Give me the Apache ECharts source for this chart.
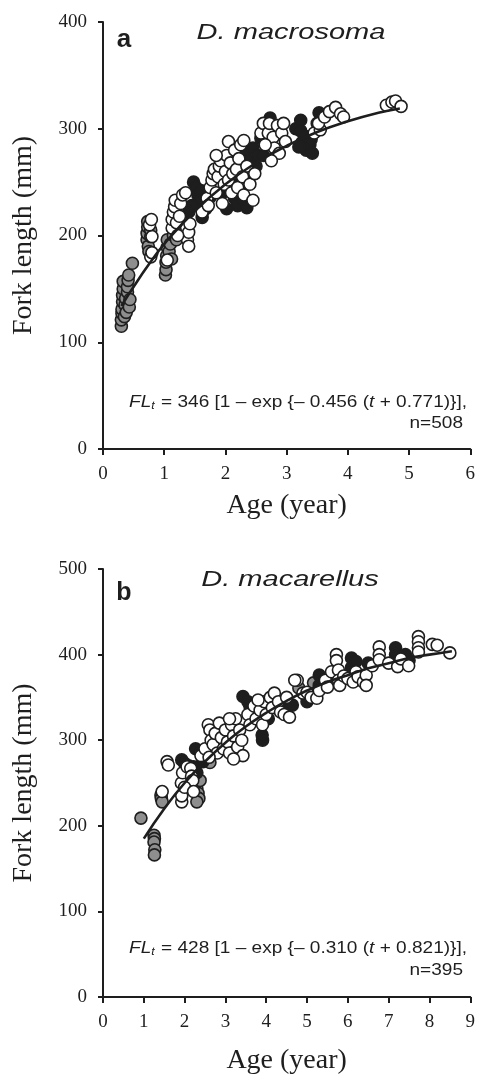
<!DOCTYPE html>
<html>
<head>
    <meta charset="utf-8">
    <title>Growth curves</title>
    <script src="https://cdn.jsdelivr.net/npm/echarts@6/dist/echarts.min.js"></script>
    <style>
        html, body { margin: 0; padding: 0; background: #fff; }
    </style>
</head>
<body>
    <div id="main" style="width: 478px; height: 1077px;"></div>
    <script type="text/javascript">
        var myChart = echarts.init(document.getElementById('main'));

        // panel a : D. macrosoma  [age (year), fork length (mm)]
        var aGray = [
            [0.30,115],[0.30,121],[0.31,127],[0.31,131],[0.32,138],[0.32,144],[0.33,150],[0.33,157],
            [0.35,124],[0.36,135],[0.37,141],[0.38,128],[0.40,147],[0.40,152],[0.41,158],[0.42,163],
            [0.43,133],[0.44,140],[0.48,174],
            [0.72,196],[0.72,202],[0.73,208],[0.73,213],[0.74,190],[0.75,185],[0.78,199],[0.78,205],
            [1.02,163],[1.03,168],[1.03,175],[1.04,181],[1.05,189],[1.05,196],[1.08,185],[1.10,192],
            [1.12,178],[1.15,200],[1.18,205],[1.20,196]
        ];
        var aBlack = [
            [1.48,250],[1.52,245],[1.55,238],[1.58,232],[1.45,228],[1.40,222],[1.62,217],[1.68,225],
            [1.75,236],[1.60,242],
            [2.10,250],[2.15,235],[2.20,228],[2.25,242],[2.30,232],[2.35,226],[2.38,252],[2.32,278],
            [2.40,270],[2.45,282],[2.50,265],[2.53,275],[2.02,225],[1.95,240],
            [2.58,291],[2.65,300],[2.73,310],[2.70,288],[2.62,275],
            [3.15,300],[3.23,308],[3.23,298],[3.25,287],[3.30,293],[3.32,280],[3.38,285],[3.42,277],
            [3.40,290],[3.20,283],[3.53,315],[3.50,305]
        ];
        var aWhite = [
            [0.78,180],[0.80,184],[0.80,199],[0.76,210],[0.79,215],
            [1.05,177],[1.13,207],[1.13,215],[1.15,222],[1.17,227],[1.18,233],[1.20,212],[1.25,218],
            [1.27,230],[1.30,238],[1.35,240],[1.38,196],[1.40,190],[1.40,203],[1.42,211],[1.22,200],
            [1.62,222],[1.70,235],[1.75,245],[1.78,252],[1.80,258],[1.82,262],[1.85,240],[1.88,255],
            [1.90,265],[1.92,270],[1.95,230],[1.98,248],[2.00,260],[2.02,275],[2.05,252],[2.05,288],
            [2.08,268],[2.10,240],[2.12,258],[2.15,280],[2.18,262],[2.20,245],[2.22,272],[2.25,285],
            [2.28,255],[2.30,238],[2.35,265],[2.40,248],[2.45,233],[2.48,258],[1.72,228],[1.85,275],
            [2.30,289],
            [2.58,296],[2.62,305],[2.70,296],[2.72,305],[2.78,292],[2.80,282],[2.85,303],[2.88,277],
            [2.92,296],[2.95,305],[2.98,288],[2.65,285],[2.75,270],
            [3.45,296],[3.55,299],[3.52,305],[3.62,311],[3.70,316],[3.80,320],[3.88,314],[3.93,311],
            [4.63,322],[4.72,325],[4.78,326],[4.87,321]
        ];
        var aCurveT  = [0.3, 0.5, 0.75, 1, 1.5, 2, 2.5, 3, 3.5, 4, 4.5, 4.85];
        var aCurveFL = [134, 152, 173, 192, 223, 248, 268, 284, 297, 307, 315, 319];

        // panel b : D. macarellus
        var bGray = [
            [0.93,209],[1.25,189],[1.26,185],[1.25,181],[1.27,172],[1.26,166],[1.42,236],[1.43,232],
            [1.45,228],[2.27,250],[2.30,244],[2.33,238],[2.35,232],[2.30,228],[2.38,253],[2.62,274],
            [4.80,361],[5.16,367]
        ];
        var bBlack = [
            [1.93,277],[2.00,273],[2.10,270],[2.22,269],[2.27,290],[2.40,286],[2.54,282],[2.30,262],
            [2.45,275],
            [2.95,318],[3.00,300],[3.25,310],[3.43,351],[3.55,345],[3.60,340],[3.84,339],[3.91,300],
            [3.90,306],[4.05,325],[3.70,332],
            [4.50,341],[4.64,341],[5.30,376],[5.30,364],[5.40,370],[6.09,396],[6.09,385],[6.50,390],
            [7.17,408],[7.17,400],[7.41,400],[7.50,393],[6.20,392],[5.00,345]
        ];
        var bWhite = [
            [1.45,240],[1.57,275],[1.60,271],[1.93,228],[1.93,235],[1.92,250],[1.95,262],[2.06,269],
            [2.15,267],[2.17,258],[2.20,253],[2.00,245],[2.22,240],
            [2.40,282],[2.50,290],[2.58,318],[2.62,312],[2.65,300],[2.70,295],[2.75,308],[2.80,285],
            [2.85,320],[2.90,303],[2.95,290],[3.00,312],[3.05,298],[3.10,285],[3.15,318],[3.20,305],
            [3.25,325],[3.30,292],[3.35,312],[3.40,300],[3.43,282],[2.60,280],[3.10,325],[3.20,278],
            [3.55,330],[3.60,318],[3.70,340],[3.75,325],[3.85,335],[3.91,318],[3.95,345],[4.00,330],
            [4.10,350],[4.15,338],[4.20,355],[4.30,345],[4.35,333],[4.44,330],[4.50,350],[4.57,327],
            [3.80,347],
            [4.76,370],[4.70,370],[4.90,355],[5.00,356],[5.10,350],[5.24,349],[5.30,358],[5.45,370],
            [5.50,362],[5.60,380],[5.72,400],[5.72,393],[5.77,382],[5.77,370],[5.80,364],[5.90,375],
            [6.00,372],[6.13,368],[6.20,380],[6.25,374],[6.38,368],[6.45,376],[6.45,364],
            [6.60,387],[6.77,409],[6.77,400],[6.77,394],[7.00,390],[7.22,386],[7.30,395],[7.49,387],
            [7.73,421],[7.73,415],[7.73,408],[7.73,403],[8.07,412],[8.19,411],[8.50,402]
        ];
        var bCurveT  = [1, 1.5, 2, 2.5, 3, 3.5, 4, 4.5, 5, 5.5, 6, 6.5, 7, 7.5, 8, 8.55];
        var bCurveFL = [185, 220, 250, 275, 297, 316, 332, 346, 358, 368, 376, 384, 390, 396, 400, 404];

        var SERIF = '"Liberation Serif", "Times New Roman", serif';
        var SANS = '"Liberation Sans", Arial, sans-serif';
        var INK = '#1e1e1e';

        function pairs(xs, ys) {
            return xs.map(function (x, i) { return [x, ys[i]]; });
        }

        function dots(data, fill, idx) {
            return {
                type: 'scatter',
                xAxisIndex: idx, yAxisIndex: idx,
                data: data,
                symbolSize: 12,
                itemStyle: { color: fill, borderColor: INK, borderWidth: 1.6, opacity: 1 },
                z: 2
            };
        }

        function curve(data, idx) {
            return {
                type: 'line',
                xAxisIndex: idx, yAxisIndex: idx,
                data: data,
                smooth: true,
                showSymbol: false,
                lineStyle: { color: INK, width: 2.6 },
                z: 5
            };
        }

        function xAx(idx, max, gap) {
            return {
                type: 'value', gridIndex: idx, min: 0, max: max, interval: 1,
                name: 'Age (year)', nameLocation: 'middle', nameGap: gap,
                nameTextStyle: { fontFamily: SERIF, fontSize: 28, color: INK },
                axisLine: { onZero: false, lineStyle: { color: INK, width: 2 } },
                axisTick: { inside: false, length: 6, lineStyle: { color: INK, width: 2 } },
                axisLabel: { fontFamily: SERIF, fontSize: 19, color: INK, margin: 16 },
                splitLine: { show: false }
            };
        }

        function yAx(idx, max) {
            return {
                type: 'value', gridIndex: idx, min: 0, max: max, interval: 100,
                name: 'Fork length (mm)', nameLocation: 'middle', nameGap: 65, nameRotate: 90,
                nameTextStyle: { fontFamily: SERIF, fontSize: 28, color: INK },
                axisLine: { show: true, lineStyle: { color: INK, width: 2 } },
                axisTick: { show: true, inside: false, length: 5, lineStyle: { color: INK, width: 2 } },
                axisLabel: { fontFamily: SERIF, fontSize: 19, color: INK, margin: 16 },
                splitLine: { show: false }
            };
        }

        function label(x, y, sx, text, opts) {
            return {
                type: 'text', x: x, y: y, scaleX: sx, z: 10,
                style: Object.assign({ text: text, fill: INK }, opts)
            };
        }

        var eqRich = {
            i: { fontFamily: SANS, fontSize: 17, fontStyle: 'italic', fill: INK },
            s: { fontFamily: SANS, fontSize: 11, fontStyle: 'italic', fill: INK, padding: [8, 1, 0, 0] }
        };

        var option = {
            animation: false,
            backgroundColor: '#fff',
            grid: [
                { left: 103, top: 22, width: 373, height: 427 },
                { left: 103, top: 569, width: 373, height: 428 }
            ],
            xAxis: [xAx(0, 6, 43), xAx(1, 9, 50)],
            yAxis: [yAx(0, 400), yAx(1, 500)],
            series: [
                dots(aGray, '#8e8e8e', 0),
                dots(aBlack, INK, 0),
                dots(aWhite, '#ffffff', 0),
                curve(pairs(aCurveT, aCurveFL), 0),
                dots(bGray, '#8e8e8e', 1),
                dots(bBlack, INK, 1),
                dots(bWhite, '#ffffff', 1),
                curve(pairs(bCurveT, bCurveFL), 1)
            ],
            graphic: [
                label(124, 40, 1, 'a', { fontFamily: SANS, fontSize: 26, fontWeight: 'bold', align: 'center', verticalAlign: 'middle' }),
                label(291, 33, 1.32, 'D. macrosoma', { fontFamily: SANS, fontSize: 22, fontStyle: 'italic', align: 'center', verticalAlign: 'middle' }),
                label(467, 402, 1.12, '{i|FL}{s|t} = 346 [1 – exp {– 0.456 ({i|t} + 0.771)}],',
                    { fontFamily: SANS, fontSize: 17, align: 'right', verticalAlign: 'middle', rich: eqRich }),
                label(463, 423, 1.12, 'n=508', { fontFamily: SANS, fontSize: 17, align: 'right', verticalAlign: 'middle' }),
                label(124, 593, 1, 'b', { fontFamily: SANS, fontSize: 25, fontWeight: 'bold', align: 'center', verticalAlign: 'middle' }),
                label(290, 580, 1.32, 'D. macarellus', { fontFamily: SANS, fontSize: 22, fontStyle: 'italic', align: 'center', verticalAlign: 'middle' }),
                label(467, 948, 1.12, '{i|FL}{s|t} = 428 [1 – exp {– 0.310 ({i|t} + 0.821)}],',
                    { fontFamily: SANS, fontSize: 17, align: 'right', verticalAlign: 'middle', rich: eqRich }),
                label(463, 970, 1.12, 'n=395', { fontFamily: SANS, fontSize: 17, align: 'right', verticalAlign: 'middle' })
            ]
        };

        myChart.setOption(option);
    </script>
</body>
</html>
